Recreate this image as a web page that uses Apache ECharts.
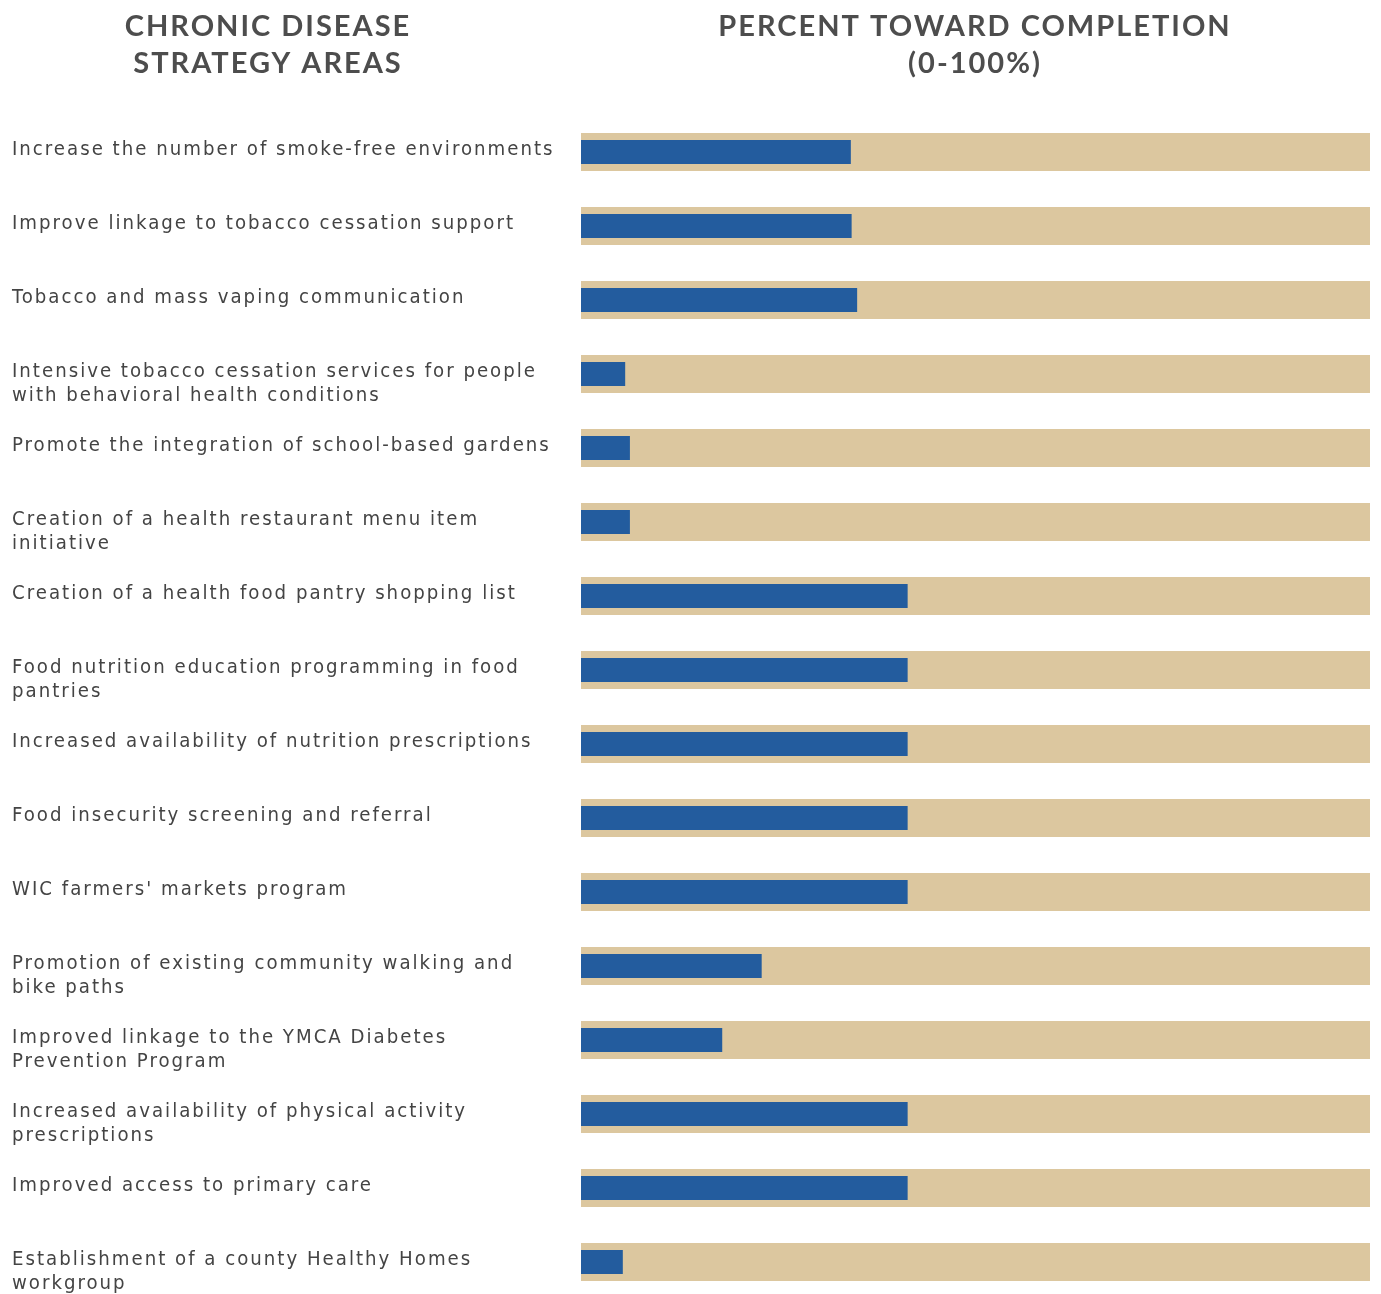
<!DOCTYPE html>
<html>
<head>
<meta charset="utf-8">
<script src="https://cdn.jsdelivr.net/npm/echarts@6/dist/echarts.min.js"></script>
<style>
  html, body { margin: 0; padding: 0; background: #fff; }
  #chart { width: 1381px; height: 1294px; }
</style>
</head>
<body>
<div id="chart"></div>
<script>
  // strategy areas, top to bottom
  var areas = [
    'Increase the number of smoke-free environments',
    'Improve linkage to tobacco cessation support',
    'Tobacco and mass vaping communication',
    'Intensive tobacco cessation services for people\nwith behavioral health conditions',
    'Promote the integration of school-based gardens',
    'Creation of a health restaurant menu item\ninitiative',
    'Creation of a health food pantry shopping list',
    'Food nutrition education programming in food\npantries',
    'Increased availability of nutrition prescriptions',
    'Food insecurity screening and referral',
    "WIC farmers' markets program",
    'Promotion of existing community walking and\nbike paths',
    'Improved linkage to the YMCA Diabetes\nPrevention Program',
    'Increased availability of physical activity\nprescriptions',
    'Improved access to primary care',
    'Establishment of a county Healthy Homes\nworkgroup'
  ]
  // percent toward completion
  var progress = [34.2, 34.3, 35, 5.6, 6.2, 6.2, 41.4, 41.4, 41.4, 41.4, 41.4, 22.9, 17.9, 41.4, 41.4, 5.3]
  // full track (100%)
  var track = [100, 100, 100, 100, 100, 100, 100, 100, 100, 100, 100, 100, 100, 100, 100, 100]

  // echarts has no letter-spacing option, so set it on every 2d context (drawing and measuring)
  var getCtx = HTMLCanvasElement.prototype.getContext
  HTMLCanvasElement.prototype.getContext = function (type, opts) {
    var ctx = getCtx.call(this, type, opts)
    if (type === '2d' && ctx) ctx.letterSpacing = '2px'
    return ctx
  }

  var headStyle = {
    fontFamily: 'Lato',
    fontWeight: 'bold',
    fontSize: 29,
    lineHeight: 37,
    color: '#4d4d4d'
  }

  var option = {
    animation: false,
    title: [
      { text: 'CHRONIC DISEASE\nSTRATEGY AREAS', left: 268, top: 8, textAlign: 'center', padding: 0, textStyle: headStyle },
      { text: 'PERCENT TOWARD COMPLETION\n(0-100%)', left: 975, top: 8, textAlign: 'center', padding: 0, textStyle: headStyle }
    ],
    grid: [
      { left: 581, right: 11, top: 115, height: 1184, outerBoundsMode: 'none' },
      { left: 581, right: 11, top: 101, height: 1184, outerBoundsMode: 'none' }
    ],
    xAxis: [
      { gridIndex: 0, type: 'value', min: 0, max: 100, show: false },
      { gridIndex: 1, type: 'value', min: 0, max: 100, show: false }
    ],
    yAxis: [
      { gridIndex: 0, type: 'category', data: areas, inverse: true, show: false },
      { gridIndex: 0, type: 'category', data: areas, inverse: true, show: false },
      {
        gridIndex: 1,
        type: 'category',
        data: areas,
        inverse: true,
        axisLine: { show: false },
        axisTick: { show: false },
        axisLabel: {
          align: 'left',
          verticalAlign: 'top',
          margin: 569,
          fontFamily: 'DejaVu Sans Condensed, Liberation Sans Narrow, sans-serif',
          fontSize: 20.2,
          lineHeight: 24,
          color: '#444'
        }
      }
    ],
    series: [
      {
        name: 'track',
        type: 'bar',
        xAxisIndex: 0,
        yAxisIndex: 0,
        data: track,
        barWidth: 38,
        itemStyle: { color: '#dcc79f' },
        silent: true
      },
      {
        name: 'progress',
        type: 'bar',
        xAxisIndex: 0,
        yAxisIndex: 1,
        data: progress,
        barWidth: 24,
        itemStyle: { color: '#235c9e' }
      }
    ]
  }

  var chart = echarts.init(document.getElementById('chart'))
  chart.setOption(option)
</script>
</body>
</html>
